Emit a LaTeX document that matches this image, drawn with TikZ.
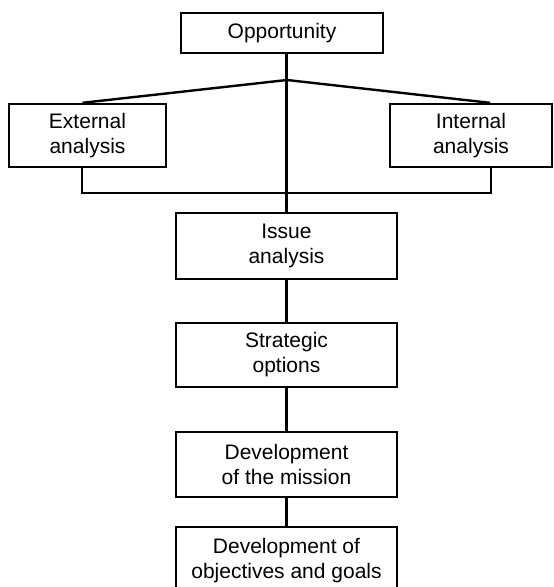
\documentclass[tikz,border=0pt]{standalone}
\usepackage{fontspec}
\setmainfont{Liberation Sans}
\begin{document}
\begin{tikzpicture}[x=1pt,y=-1pt,
  box/.style={draw, line width=2.4pt, inner sep=0pt, align=center,
    font=\fontsize{21}{25}\selectfont},
  link/.style={line width=2.4pt}]
\useasboundingbox (0,0) rectangle (554,587);
\node[box, minimum width=202pt, minimum height=40pt] (opp) at (282,33) {Opportunity};
\node[box, minimum width=157pt, minimum height=63pt] (ext) at (87.5,135.5) {External\\analysis};
\node[box, minimum width=162pt, minimum height=63pt] (int) at (471,135.5) {Internal\\analysis};
\node[box, minimum width=221pt, minimum height=66pt] (iss) at (286.5,246) {Issue\\analysis};
\node[box, minimum width=221pt, minimum height=64pt] (str) at (286.5,355) {Strategic\\options};
\node[box, minimum width=221pt, minimum height=65pt] (mis) at (286.5,464.5) {Development\\of the mission};
\node[box, minimum width=221pt, minimum height=68pt] (goa) at (286.5,561) {Development of\\objectives and goals};
\coordinate (fork) at (287,80);
\coordinate (bar) at (287,193);
\draw[link] (iss.north |- opp.south) -- (iss.north);
\draw[link] (fork) -- ([xshift=-5pt]ext.north);
\draw[link] (fork) -- ([xshift=19pt]int.north);
\draw[link] ([xshift=-5.5pt]ext.south) |- (bar) -| ([xshift=20pt]int.south);
\draw[link] (iss) -- (str);
\draw[link] (str) -- (mis);
\draw[link] (mis) -- (goa);
\end{tikzpicture}
\end{document}
